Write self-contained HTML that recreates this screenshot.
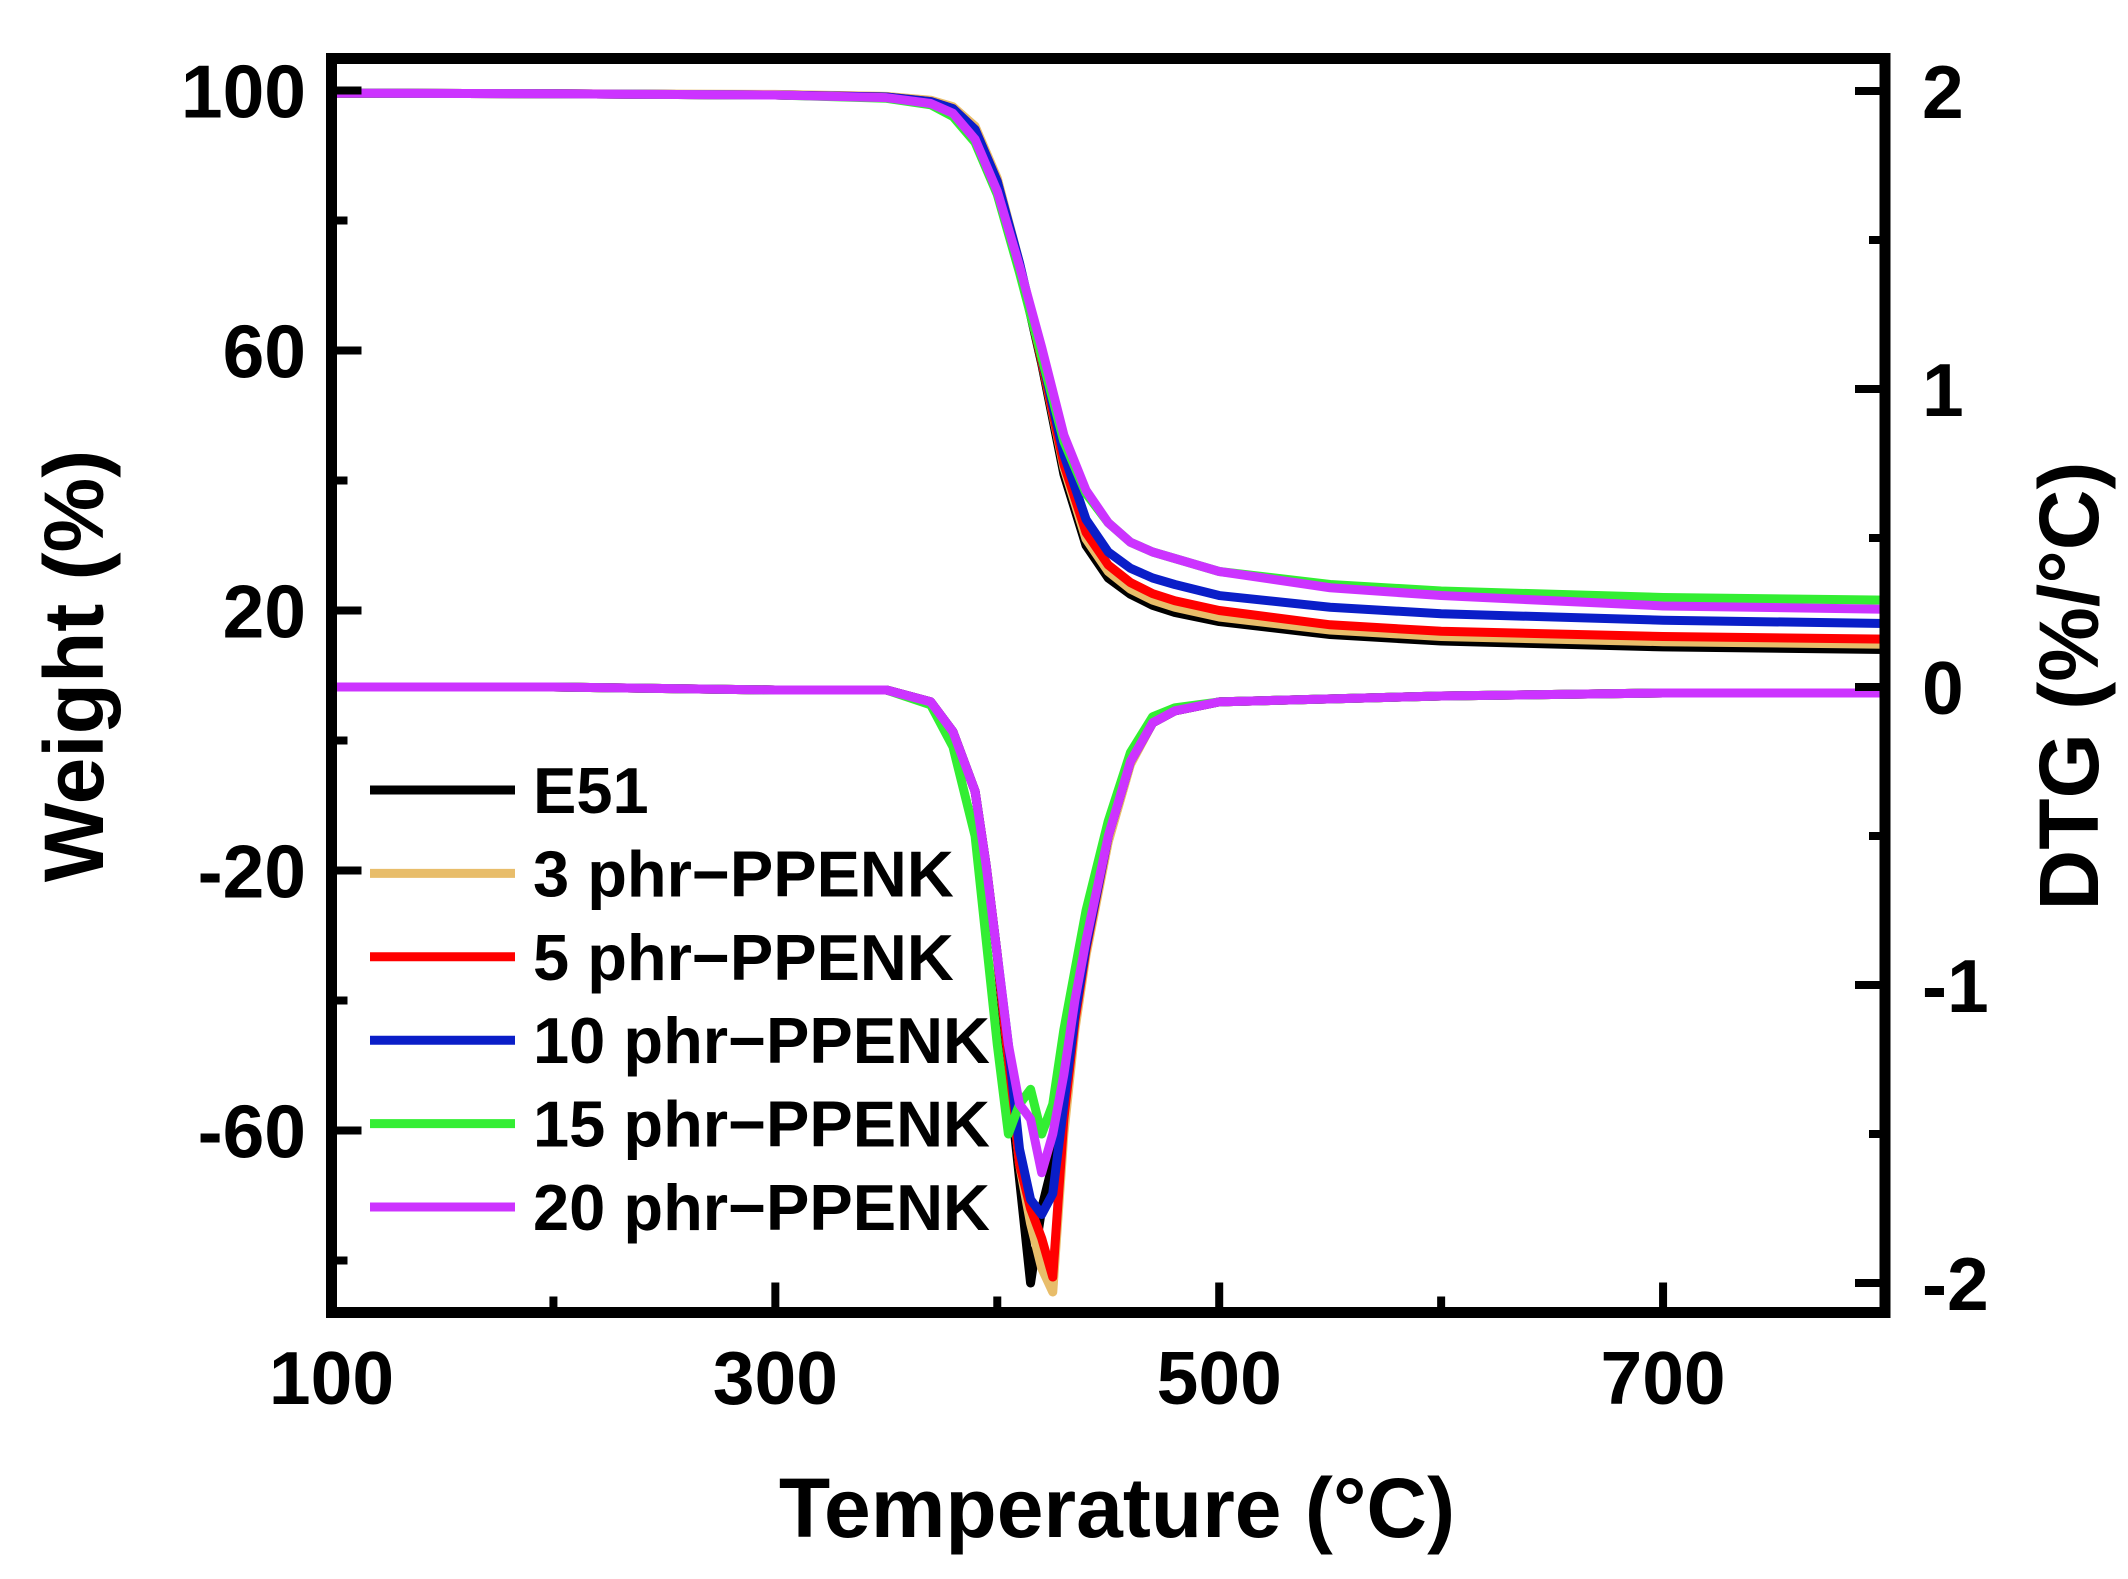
<!DOCTYPE html>
<html><head><meta charset="utf-8"><style>
body{margin:0;background:#fff}
svg{display:block;font-family:"Liberation Sans",Arial,sans-serif;font-weight:bold}
</style></head><body>
<svg id="c" width="2128" height="1579" viewBox="0 0 2128 1579"></svg>
<script>
const temps=[100,200,300,350,370,380,390,400,410,420,430,440,450,460,470,480,500,550,600,700,800];
const wE51=[99.6,99.5,99.3,99,98.3,97.2,94,86,73,58,41,30,25,22.5,20.8,19.7,18.3,16.3,15.3,14.4,14];
const w3=[99.6,99.5,99.4,99.1,98.5,97.5,94.5,86.5,73.5,58.5,42,31,26,23.3,21.6,20.5,19,17,16,15.2,14.8];
const w5=[99.6,99.5,99.3,99,98.3,97.2,94,86,73,58.5,42.5,32,27,24.3,22.6,21.5,20,17.8,16.8,16,15.6];
const w10=[99.6,99.5,99.3,99,98.3,97.2,94,86,73.5,59,44,34,29,26.5,25,24,22.3,20.5,19.5,18.5,18];
const w15=[99.6,99.5,99.3,98.8,97.8,96,92,84,72,59,46,38,33.5,30.5,29,28,26,24,23,22,21.6];
const w20=[99.6,99.5,99.3,98.9,98,96.5,92.5,84.5,73,60.5,47,38.5,33.5,30.5,29,28,26,23.5,22.3,20.7,20.2];
const dT=[100,200,300,350,370,380,390,395,400,405,410,415,420,425,430,435,440,450,460,470,480,500,600,700,800];
const dE51=[0,0,-0.01,-0.01,-0.05,-0.15,-0.35,-0.6,-0.9,-1.3,-1.65,-2.0,-1.75,-1.6,-1.3,-1.1,-0.85,-0.5,-0.25,-0.12,-0.08,-0.05,-0.03,-0.02,-0.02];
const d3=[0,0,-0.01,-0.01,-0.05,-0.15,-0.35,-0.6,-0.9,-1.25,-1.6,-1.8,-1.95,-2.03,-1.5,-1.15,-0.9,-0.52,-0.26,-0.12,-0.08,-0.05,-0.03,-0.02,-0.02];
const d5=[0,0,-0.01,-0.01,-0.05,-0.15,-0.35,-0.6,-0.9,-1.25,-1.6,-1.75,-1.85,-1.98,-1.45,-1.12,-0.88,-0.5,-0.25,-0.12,-0.08,-0.05,-0.03,-0.02,-0.02];
const d10=[0,0,-0.01,-0.01,-0.05,-0.15,-0.35,-0.6,-0.9,-1.2,-1.55,-1.72,-1.77,-1.7,-1.4,-1.1,-0.87,-0.5,-0.25,-0.12,-0.08,-0.05,-0.03,-0.02,-0.02];
const d15=[0,0,-0.01,-0.01,-0.06,-0.2,-0.5,-0.85,-1.2,-1.5,-1.4,-1.35,-1.5,-1.4,-1.15,-0.95,-0.75,-0.45,-0.22,-0.1,-0.07,-0.05,-0.03,-0.02,-0.02];
const d20=[0,0,-0.01,-0.01,-0.05,-0.15,-0.35,-0.6,-0.9,-1.2,-1.4,-1.45,-1.63,-1.5,-1.3,-1.05,-0.85,-0.5,-0.25,-0.12,-0.08,-0.05,-0.03,-0.02,-0.02];
const names=["E51","3 phr−PPENK","5 phr−PPENK","10 phr−PPENK","15 phr−PPENK","20 phr−PPENK"];
const colors=["#000000","#e8bd6a","#ff0000","#0a1ec8","#33ee33","#cc33ff"];
const xTicks=[100,300,500,700];
const wTicks=[100,60,20,-20,-60];
const dTicks=[2,1,0,-1,-2];

const L=331.5,R=1885,T=58.5,B=1312.5;
const X=t=>L+(t-100)/700*(R-L);
const YW=w=>90.5+(100-w)*6.5;
const YD=d=>687-d*298;
const svg=document.getElementById('c');
const NS="http://www.w3.org/2000/svg";
function mk(tag,attrs,parent){const e=document.createElementNS(NS,tag);for(const k in attrs)e.setAttribute(k,attrs[k]);(parent||svg).appendChild(e);return e;}

const wSeries=[wE51,w3,w5,w10,w15,w20];
const dSeries=[dE51,d3,d5,d10,d15,d20];
const g=mk('g',{});


dSeries.forEach((s,i)=>{
  const p=mk('polyline',{points:s.map((v,j)=>X(dT[j])+','+YD(v)).join(' '),fill:'none',stroke:colors[i],'stroke-width':9,'stroke-linejoin':'round'},g);
  
  
});
wSeries.forEach((s,i)=>{
  const p=mk('polyline',{points:s.map((v,j)=>X(temps[j])+','+YW(v)).join(' '),fill:'none',stroke:colors[i],'stroke-width':9,'stroke-linejoin':'round'},g);
  
  
});

const frame=mk('rect',{x:L,y:T,width:R-L,height:B-T,fill:'none',stroke:'#000','stroke-width':11});



for(let t=100;t<=800;t+=100){
  const len=(t-100)%200===0?30:16;
  mk('line',{x1:X(t),x2:X(t),y1:B,y2:B-len,stroke:'#000','stroke-width':8});
}
xTicks.forEach(t=>{const e=mk('text',{x:X(t),y:1404,'font-size':75,'text-anchor':'middle'});e.textContent=t;
});
for(let w=100;w>=-80;w-=20){
  const major=wTicks.includes(w);
  mk('line',{x1:L,x2:L+(major?30:16),y1:YW(w),y2:YW(w),stroke:'#000','stroke-width':8});
}
wTicks.forEach(w=>{const e=mk('text',{x:306,y:YW(w)+27,'font-size':75,'text-anchor':'end'});e.textContent=w;
});
for(let d=2;d>=-2;d-=0.5){
  const major=Number.isInteger(d);
  mk('line',{x1:R,x2:R-(major?30:16),y1:YD(d),y2:YD(d),stroke:'#000','stroke-width':8});
}
dTicks.forEach(d=>{const e=mk('text',{x:1922,y:YD(d)+27,'font-size':75,'text-anchor':'start'});e.textContent=d;
});

let e=mk('text',{x:1117,y:1537,'font-size':84,'text-anchor':'middle'});e.textContent='Temperature (°C)';

e=mk('text',{x:0,y:0,'font-size':84,'text-anchor':'middle',transform:'translate(103,666) rotate(-90)'});e.textContent='Weight (%)';

e=mk('text',{x:0,y:0,'font-size':84,'text-anchor':'middle',transform:'translate(2098,686) rotate(-90)'});e.textContent='DTG (%/°C)';


const lg=mk('g',{});


names.forEach((n,i)=>{
  const y=790+i*83.4;
  const ln=mk('line',{x1:370,x2:515,y1:y,y2:y,stroke:colors[i],'stroke-width':9},lg);
  
  
  const t=mk('text',{x:533,y:y+23,'font-size':65},lg);t.textContent=n;
  
  
});
</script>
</body></html>
